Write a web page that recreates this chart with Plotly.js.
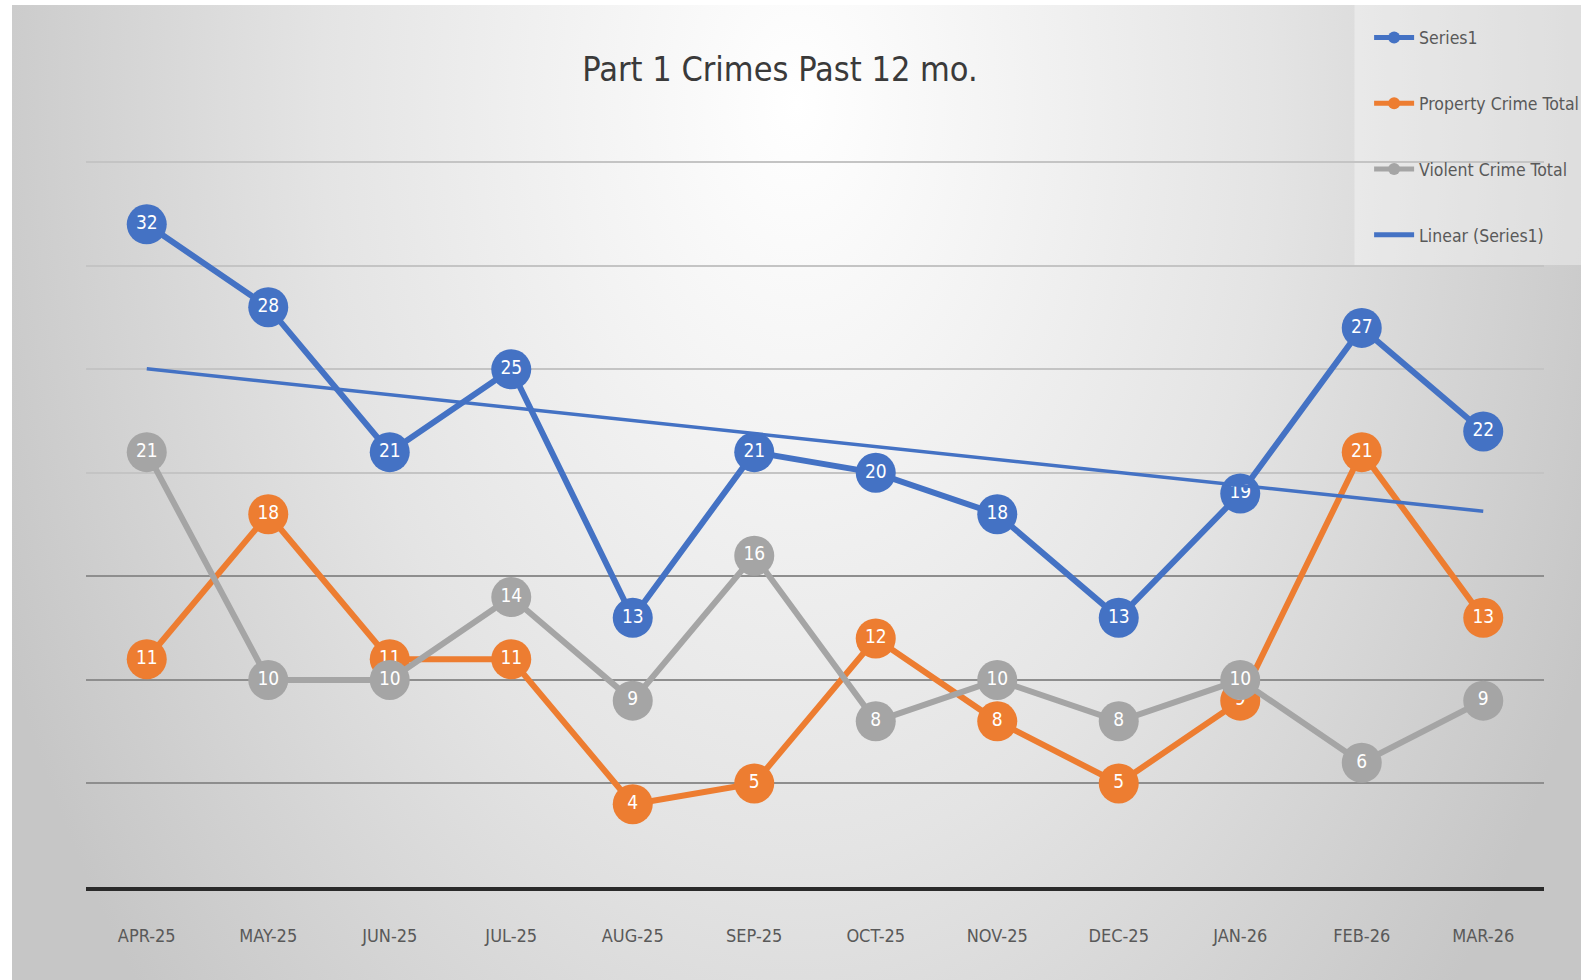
<!DOCTYPE html>
<html>
<head>
<meta charset="utf-8">
<script src="https://cdn.plot.ly/plotly-3.0.1.min.js"></script>
<style>
  html, body { margin: 0; padding: 0; background: #ffffff; }
  #bg {
    position: absolute; left: 12px; top: 5px; width: 1569px; height: 975px;
    background: radial-gradient(ellipse 55% 140% at 50% 10%, #ffffff 0%, #f3f3f3 25%, #e4e4e4 55%, #c6c6c6 100%);
  }
  #chart { position: absolute; left: 0; top: 0; width: 1587px; height: 980px; }
</style>
</head>
<body>
<div id="bg"></div>
<div id="chart"></div>
<script>
const months = ["APR-25","MAY-25","JUN-25","JUL-25","AUG-25","SEP-25","OCT-25","NOV-25","DEC-25","JAN-26","FEB-26","MAR-26"];
const series1 = [32, 28, 21, 25, 13, 21, 20, 18, 13, 19, 27, 22];
const propertyCrime = [11, 18, 11, 11, 4, 5, 12, 8, 5, 9, 21, 13];
const violentCrime = [21, 10, 10, 14, 9, 16, 8, 10, 8, 10, 6, 9];
const lightGridVals = [20, 25, 30, 35];
const darkGridVals = [5, 10, 15];

// Linear trendline (least squares) of Series1
const n = series1.length;
const idx = series1.map((_, i) => i + 1);
const mx = idx.reduce((a, b) => a + b, 0) / n;
const my = series1.reduce((a, b) => a + b, 0) / n;
let sxy = 0, sxx = 0;
for (let i = 0; i < n; i++) { sxy += (idx[i] - mx) * (series1[i] - my); sxx += (idx[i] - mx) ** 2; }
const slope = sxy / sxx;
const intercept = my - slope * mx;
const trend = idx.map(x => intercept + slope * x);

const FONT = "'Liberation Sans Narrow', 'DejaVu Sans Condensed', 'Arial Narrow', sans-serif";
const BLUE = "#4472C4", ORANGE = "#ED7D31", GRAY = "#A5A5A5";

function seriesTrace(name, y, color, group) {
  return {
    type: "scatter", mode: "lines+markers+text", name: name, legendgroup: group,
    x: months, y: y, text: y.map(String), textposition: "middle center",
    textfont: { family: FONT, size: 19, color: "#ffffff" },
    line: { color: color, width: 6 },
    marker: { color: color, size: 40 },
    cliponaxis: false, hoverinfo: "x+y"
  };
}

const data = [
  seriesTrace("Series1", series1, BLUE, "g1"),
  seriesTrace("Property Crime Total", propertyCrime, ORANGE, "g2"),
  seriesTrace("Violent Crime Total", violentCrime, GRAY, "g3"),
  {
    type: "scatter", mode: "lines", name: "Linear (Series1)", legendgroup: "g4",
    x: months, y: trend, yaxis: "y2", line: { color: BLUE, width: 3.5 }, hoverinfo: "skip"
  }
];

const layout = {
  width: 1587, height: 980,
  paper_bgcolor: "rgba(0,0,0,0)", plot_bgcolor: "rgba(0,0,0,0)",
  margin: { l: 86, r: 43, t: 156, b: 93, autoexpand: false },
  font: { family: FONT, color: "#595959" },
  title: {
    text: "Part 1 Crimes Past 12 mo.",
    font: { family: FONT, size: 34, color: "#3a3a3a" },
    xref: "container", yref: "container", x: 0.4915, y: 0.9296, xanchor: "center", yanchor: "middle"
  },
  xaxis: {
    type: "category", range: [-0.5, 11.5],
    showgrid: false, zeroline: false,
    showline: true, linecolor: "#2a2a2a", linewidth: 4,
    ticks: "outside", ticklen: 29, tickcolor: "rgba(0,0,0,0)",
    tickfont: { family: FONT, size: 18, color: "#595959" }
  },
  yaxis: {
    range: [0, 35.3], tickmode: "array", tickvals: lightGridVals, showticklabels: false,
    showgrid: true, gridcolor: "#c4c4c4", gridwidth: 2,
    zeroline: false, showline: false
  },
  yaxis2: {
    overlaying: "y", range: [0, 35.3], tickmode: "array", tickvals: darkGridVals, showticklabels: false,
    showgrid: true, gridcolor: "#8e8e8e", gridwidth: 2,
    zeroline: false, showline: false
  },
  shapes: [{
    type: "rect", xref: "paper", yref: "paper", layer: "below",
    x0: 0.870, x1: 1.0254, y0: 0.851, y1: 1.21,
    fillcolor: "rgba(255,255,255,0.35)", line: { width: 0 }
  }],
  showlegend: true,
  legend: {
    xref: "container", yref: "container", x: 0.8627, y: 0.98, xanchor: "left", yanchor: "top",
    bgcolor: "rgba(0,0,0,0)",
    font: { family: FONT, size: 17.5, color: "#595959" },
    traceorder: "grouped", tracegroupgap: 40, itemwidth: 40, itemsizing: "constant"
  }
};

Plotly.newPlot("chart", data, layout, { displayModeBar: false, staticPlot: true });
</script>
</body>
</html>
